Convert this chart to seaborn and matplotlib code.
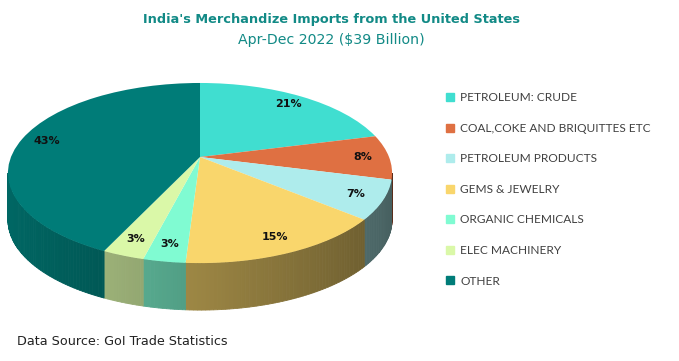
import numpy as np
import matplotlib
matplotlib.use("Agg")
import matplotlib.pyplot as plt
import matplotlib.transforms as mtransforms
import seaborn as sns
from matplotlib.lines import Line2D

# Data
categories = ["PETROLEUM: CRUDE", "COAL,COKE AND BRIQUITTES ETC", "PETROLEUM PRODUCTS",
              "GEMS & JEWELRY", "ORGANIC CHEMICALS", "ELEC MACHINERY", "OTHER"]
shares = [21, 8, 7, 15, 3, 3, 43]
colors = ["#40DED0", "#DF7042", "#AEECEC", "#F9D66C", "#80FBD2", "#DAF8A8", "#007C78"]

sns.set_theme(style="white")
plt.rcParams["font.family"] = ["DejaVu Sans"]

# tilt of the 3d pie (in pixel units of the figure)
CX, CY = 200.0, 361 - 157.0
A, B, K = 87.2, 189.0, 0.178
DEPTH = 47.0


class Tilt(mtransforms.Transform):
    """fake perspective: unit disk -> tilted ellipse"""
    input_dims = output_dims = 2
    is_separable = False
    has_inverse = False

    def transform_non_affine(self, values):
        v = np.asarray(values, dtype=float).reshape(-1, 2)
        d = 1 + K * v[:, 1]
        return np.column_stack([CX + B * v[:, 0] / d, CY + A * v[:, 1] / d])


tilt = Tilt()

fig = plt.figure(figsize=(6.79, 3.61), dpi=100)
ax = fig.add_axes([0, 0, 1, 1])

start = 90.0
angles = []
for s in shares:
    end = start - s / sum(shares) * 360
    angles.append((start, end))
    start = end

# visible part of the side wall
t_left = -180 + np.degrees(np.arcsin(K))
t_right = -np.degrees(np.arcsin(K))
for (a0, a1), col in zip(angles, colors):
    lo, hi = min(a0, a1), max(a0, a1)
    rgb = np.array(matplotlib.colors.to_rgb(col))
    for shift in (0, -360, 360):
        t0, t1 = max(lo + shift, t_left), min(hi + shift, t_right)
        if t1 <= t0:
            continue
        ts = np.append(np.arange(t0, t1, 1.0), t1)
        for u, v in zip(ts[:-1], ts[1:]):
            tt = np.radians(np.linspace(u, v, 3))
            top = tilt.transform(np.column_stack([np.cos(tt), np.sin(tt)]))
            xs = np.concatenate([top[:, 0], top[::-1, 0]])
            ys = np.concatenate([top[:, 1], top[::-1, 1] - DEPTH])
            f = 0.62 - 0.22 * np.cos(np.radians((u + v) / 2))
            c = np.clip(rgb * f, 0, 1)
            ax.fill(xs, ys, color=c, lw=0.6, ec=c)

wedges, texts, autotexts = ax.pie(
    shares, colors=colors, startangle=90, counterclock=False,
    autopct="%d%%", pctdistance=0.86,
    wedgeprops=dict(linewidth=0),
    textprops=dict(fontsize=8, fontweight="bold", color="#111111"))
for w in wedges:
    w.set_transform(tilt + ax.transData)
for t in autotexts:
    t.set_transform(tilt + ax.transData)

ax.set_aspect("auto")
ax.set_xlim(0, 679)
ax.set_ylim(0, 361)
ax.axis("off")

# legend
handles = [Line2D([], [], marker="s", linestyle="", markersize=5.5,
                  markerfacecolor=c, markeredgecolor=c) for c in colors]
leg = fig.legend(handles, categories, loc="upper left", bbox_to_anchor=(0.648, 0.758),
                 frameon=False, labelspacing=1.64, handlelength=0.8,
                 handletextpad=0.5, borderaxespad=0,
                 prop=dict(family="Lato", size=8.6))
for t in leg.get_texts():
    t.set_color("#404040")

# titles
fig.text(0.488, 0.945, "India's Merchandize Imports from the United States",
         ha="center", va="center", fontsize=9.3, fontweight="bold", color="#128A86")
fig.text(0.488, 0.89, "Apr-Dec 2022 ($39 Billion)", ha="center", va="center",
         fontsize=10.2, color="#128A86")
fig.text(0.025, 0.053, "Data Source: GoI Trade Statistics", ha="left", va="center",
         fontsize=9.2, color="#222222")

fig.savefig("out.png", dpi=100)
